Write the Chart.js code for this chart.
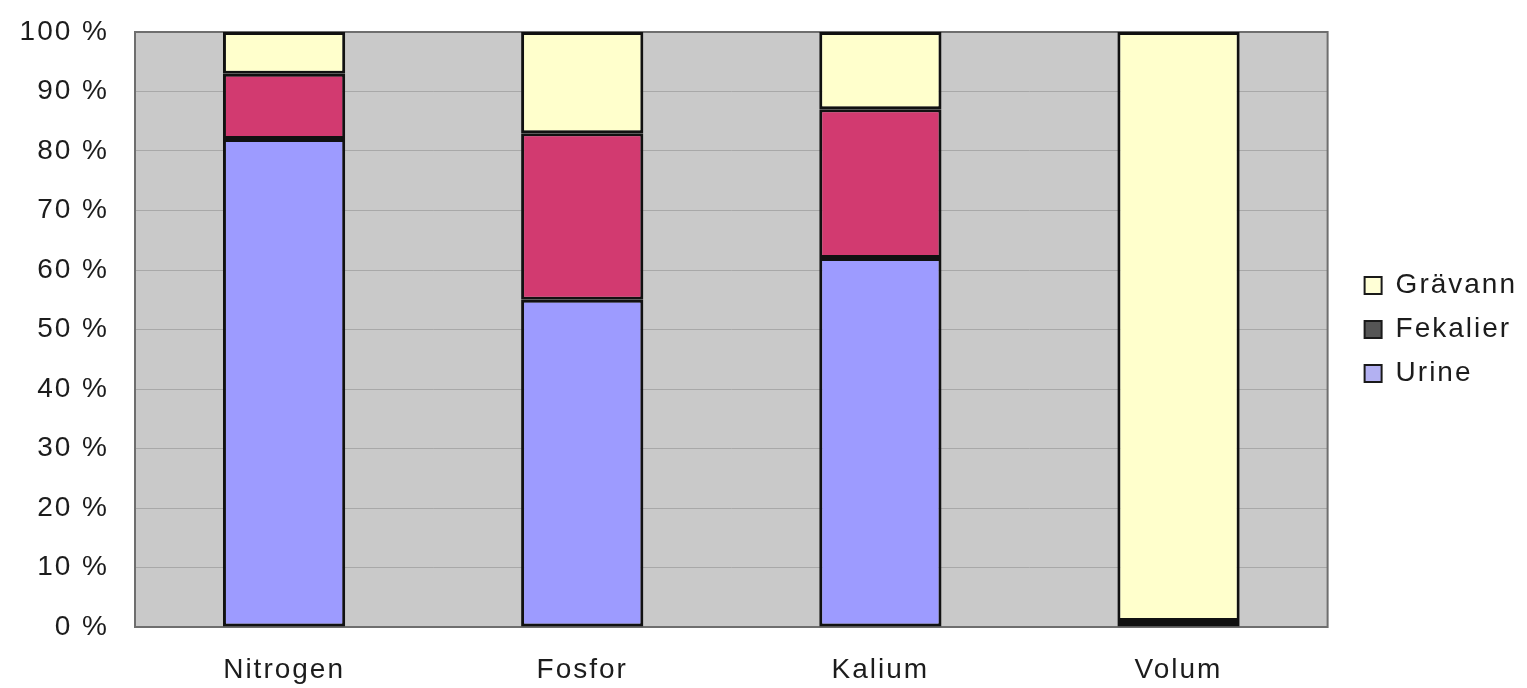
<!DOCTYPE html>
<html>
<head>
<meta charset="utf-8">
<script src="https://cdn.jsdelivr.net/npm/chart.js@4"></script>
<style>
  html, body { margin: 0; padding: 0; background: #ffffff; }
  #wrap { width: 1527px; height: 688px; position: relative; }
</style>
</head>
<body>
<div id="wrap"><canvas id="c" width="1527" height="688"></canvas></div>
<script>
// Share of nutrients and volume per household wastewater fraction
const categories = ['Nitrogen', 'Fosfor', 'Kalium', 'Volum'];
const urine      = [82, 55, 62, 1];
const fekalier   = [11, 28, 25, 0];
const gravann    = [7, 17, 13, 99];
const yTicks     = [0, 10, 20, 30, 40, 50, 60, 70, 80, 90, 100];

const seriesNames   = ['Urine', 'Fekalier', 'Grävann'];
const barColors     = ['#9d9bff', '#d23a70', '#ffffcc'];
const swatchColors  = ['#b3b1f2', '#555555', '#ffffd6'];

const FONT = { family: '"Liberation Sans", Arial, sans-serif', size: 28 };
const TEXT = '#1c1c1c';

// Canvas resets letter spacing on resize, so apply it before layout and drawing
const spacing = {
  id: 'spacing',
  beforeLayout(chart) { chart.ctx.letterSpacing = '2px'; },
  beforeDraw(chart) { chart.ctx.letterSpacing = '2px'; }
};

// Grey plot area with a dark frame
const plotFrame = {
  id: 'plotFrame',
  beforeDraw(chart) {
    const { ctx, chartArea: a } = chart;
    ctx.save();
    ctx.fillStyle = '#c9c9c9';
    ctx.fillRect(a.left, a.top, a.right - a.left, a.bottom - a.top);
    ctx.restore();
  },
  beforeDatasetsDraw(chart) {
    const { ctx, chartArea: a } = chart;
    ctx.save();
    ctx.strokeStyle = '#6e6e6e';
    ctx.lineWidth = 2;
    ctx.strokeRect(a.left, a.top, a.right - a.left, a.bottom - a.top);
    ctx.restore();
  }
};

const seriesData = [urine, fekalier, gravann];

new Chart(document.getElementById('c'), {
  type: 'bar',
  data: {
    labels: categories,
    datasets: seriesData.map((d, i) => ({
      label: seriesNames[i],
      data: d,
      backgroundColor: barColors[i],
      borderColor: '#111111',
      borderWidth: 3,
      borderSkipped: false,
      barPercentage: 0.41,
      categoryPercentage: 1.0
    }))
  },
  options: {
    responsive: false,
    animation: false,
    devicePixelRatio: 1,
    layout: { padding: { left: 20, right: 0, top: 32, bottom: 3 } },
    scales: {
      x: {
        stacked: true,
        grid: { display: false, drawTicks: false },
        border: { display: false },
        ticks: { color: TEXT, font: FONT, padding: 26, maxRotation: 0 },
        afterFit(scale) {
          scale.height = 58;
          scale.paddingLeft = 0;
          scale.paddingRight = 0;
        }
      },
      y: {
        stacked: true,
        min: 0,
        max: 100,
        afterBuildTicks(scale) { scale.ticks = yTicks.map(v => ({ value: v })); },
        grid: { color: '#a8a8a8', lineWidth: 1, drawTicks: false },
        border: { display: false },
        ticks: { color: TEXT, font: FONT, padding: 26, callback: v => v + ' %' },
        afterFit(scale) {
          scale.width = 115;
          scale.paddingTop = 0;
          scale.paddingBottom = 0;
        }
      },
      spacer: {
        type: 'linear',
        axis: 'y',
        position: 'right',
        display: true,
        grid: { display: false, drawTicks: false },
        border: { display: false },
        ticks: { display: false },
        afterFit(scale) {
          scale.width = 21;
          scale.paddingTop = 0;
          scale.paddingBottom = 0;
        }
      }
    },
    plugins: {
      tooltip: { enabled: false },
      legend: {
        position: 'right',
        fullSize: false,
        reverse: true,
        labels: {
          font: FONT,
          color: TEXT,
          boxWidth: 17,
          boxHeight: 17,
          padding: 16,
          generateLabels(chart) {
            return chart.data.datasets.map((ds, i) => ({
              text: ds.label,
              fillStyle: swatchColors[i],
              strokeStyle: '#1a1a1a',
              lineWidth: 2,
              hidden: false,
              datasetIndex: i,
              fontColor: TEXT
            }));
          }
        }
      }
    }
  },
  plugins: [spacing, plotFrame]
});
</script>
</body>
</html>
